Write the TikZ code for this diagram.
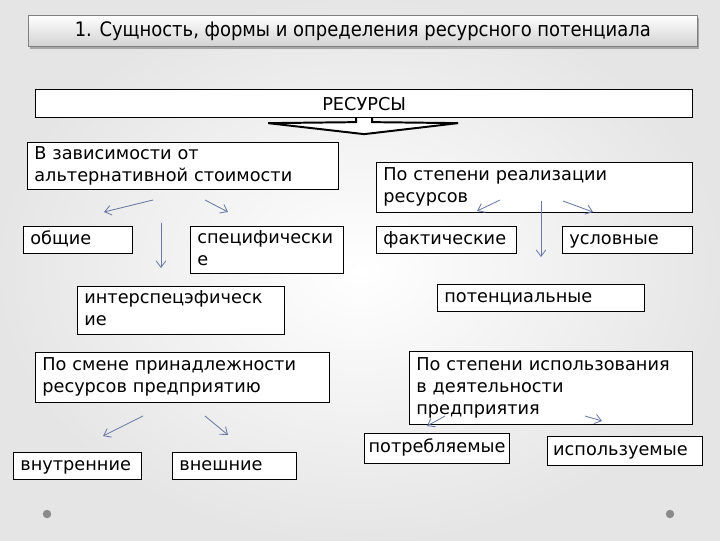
\documentclass[tikz,border=0pt]{standalone}
\usepackage{fontspec}
\setmainfont{DejaVu Sans}
\newfontfamily\titlefont{DejaVu Sans Condensed}
\usetikzlibrary{arrows.meta}
\definecolor{flink}{HTML}{6A78A6}
\definecolor{fdot}{HTML}{8A8A8A}
\tikzset{
  box/.style     = {draw, thick, fill=white, anchor=north west, align=left,
                    inner xsep=0.17cm, inner ysep=1pt,
                    font=\fontsize{12.6}{15.6}\selectfont,
                    execute at begin node=\strut, execute at end node=\strut},
  link/.style    = {flink, semithick, -{Straight Barb[length=1.6mm,width=2.4mm]}},
  bullet/.style  = {fill=fdot, circle, inner sep=0pt, minimum size=6pt},
}

\begin{document}
\begin{tikzpicture}[x=0.025cm,y=-0.025cm]
\useasboundingbox (0,0) rectangle (720,540);
% background
\shade[inner color=white, outer color=gray!20] (0,0) rectangle (720,540);
% title
\fill[gray!70] (30,18) rectangle (699,49);
\node[draw=gray, top color=white, bottom color=gray!35, anchor=north west,
  minimum width=16.725cm, minimum height=0.775cm, inner sep=0pt,
  font=\titlefont\fontsize{14.2}{16}\selectfont] (title) at (28,15)
  {1. Сущность, формы и определения ресурсного потенциала};
% root
\node[draw, thick, fill=white, anchor=north west, minimum width=16.425cm,
  minimum height=0.7cm, inner sep=0pt, font=\fontsize{12.6}{14}\selectfont]
  (res) at (35,89) {РЕСУРСЫ};
\draw[line width=1.4pt, fill=white] (res.south) ++(-8,0) -- ++(0,4) -- ++(-88,1)
  -- ++(96,11) -- ++(94,-11) -- ++(-86,-1) -- ++(0,-4);
% groups
\node[box, text width=7.43cm, minimum height=1.175cm] (alt) at (27,142)
  {В зависимости от\\альтернативной стоимости};
\node[box, text width=7.56cm, minimum height=1.25cm] (real) at (376,162)
  {По степени реализации\\ресурсов};
\node[box, text width=7.01cm, minimum height=1.25cm] (own) at (35,352)
  {По смене принадлежности\\ресурсов предприятию};
\node[box, text width=6.735cm, minimum height=1.825cm] (use) at (409,351)
  {По степени использования\\в деятельности\\предприятия};
% kinds
\node[box, text width=2.385cm, minimum height=0.675cm] (gen) at (23,226) {общие};
\node[box, text width=3.485cm, minimum height=1.175cm] (spec) at (190,226) {специфически\\е};
\node[box, text width=4.835cm, minimum height=1.2cm] (inter) at (77,286) {интерспецэфическ\\ие};
\node[box, text width=3.16cm, minimum height=0.675cm] (fact) at (376,226) {фактические};
\node[box, text width=2.91cm, minimum height=0.675cm] (cond) at (562,226) {условные};
\node[box, text width=4.835cm, minimum height=0.675cm] (pot) at (437,284) {потенциальные};
\node[box, text width=2.86cm, minimum height=0.675cm] (inn) at (13,452) {внутренние};
\node[box, text width=2.76cm, minimum height=0.675cm] (out) at (172,452) {внешние};
\node[box, inner xsep=0.1cm, text width=3.425cm, minimum height=0.75cm] (cons) at (364,433) {потребляемые};
\node[box, inner xsep=0.14cm, text width=3.595cm, minimum height=0.725cm] (used) at (547,436) {используемые};
% arrow ends
\coordinate (alt-a) at (153,200); \coordinate (gen-a) at (104,212);
\coordinate (alt-b) at (205,200); \coordinate (spec-a) at (228,212);
\coordinate (alt-c) at (161,223); \coordinate (inter-a) at (161,268);
\coordinate (real-a) at (500,200); \coordinate (fact-a) at (477,211);
\coordinate (real-b) at (541,201); \coordinate (pot-a) at (541,257);
\coordinate (real-c) at (563,201); \coordinate (cond-a) at (593,212);
\coordinate (own-a) at (143,416); \coordinate (inn-a) at (103,436);
\coordinate (own-b) at (205,416); \coordinate (out-a) at (228,435);
\coordinate (use-a) at (445,416); \coordinate (cons-a) at (427,426);
\coordinate (use-b) at (585,416); \coordinate (used-a) at (602,421);
\foreach \a/\b in {alt-a/gen-a, alt-b/spec-a, alt-c/inter-a, real-a/fact-a,
  real-b/pot-a, real-c/cond-a, own-a/inn-a, own-b/out-a, use-a/cons-a, use-b/used-a}
  \draw[link] (\a) -- (\b);
% bullets
\node[bullet] (dl) at (47,514) {};
\node[bullet] (dr) at (670,514) {};
\end{tikzpicture}
\end{document}
